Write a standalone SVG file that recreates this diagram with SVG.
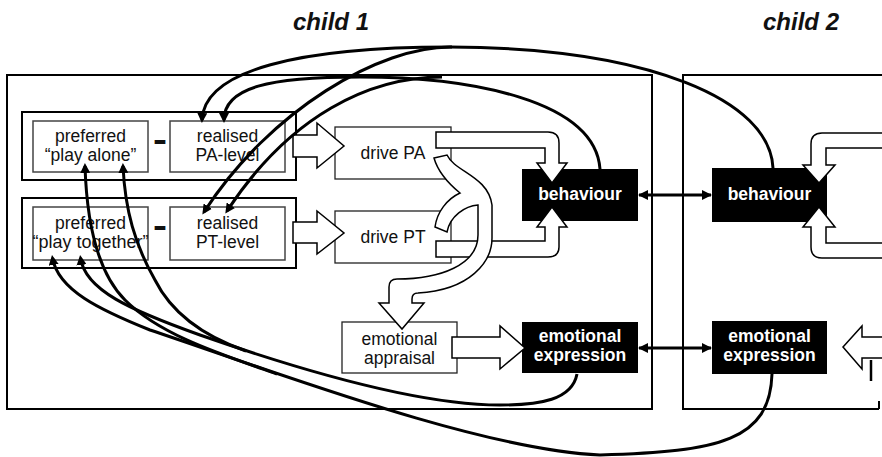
<svg xmlns="http://www.w3.org/2000/svg" width="882" height="457" viewBox="0 0 882 457">
<defs>
<style>
.frame{fill:none;stroke:#000;stroke-width:2}
.grp{fill:#fff;stroke:#000;stroke-width:2}
.inner{fill:#fff;stroke:#444;stroke-width:1.5}
.plain{fill:#fff;stroke:#222;stroke-width:1.3}
.blk{fill:#000}
.t{font-family:"Liberation Sans",Arial,sans-serif;font-size:17.5px;fill:#111;text-anchor:middle}
.tw{font-family:"Liberation Sans",Arial,sans-serif;font-size:17.5px;font-weight:bold;fill:#fff;text-anchor:middle}
.minus{font-family:"Liberation Sans",Arial,sans-serif;font-size:34px;font-weight:bold;fill:#111;text-anchor:middle}
.title{font-family:"Liberation Sans",Arial,sans-serif;font-size:24px;font-weight:bold;font-style:italic;fill:#111;text-anchor:middle}
.band{fill:#fff;stroke:#000;stroke-width:1.5;stroke-linejoin:miter}
.fb{fill:none;stroke:#000;stroke-width:3}
</style>
<marker id="ah" viewBox="0 0 10 10" refX="7" refY="5" markerWidth="10" markerHeight="10" markerUnits="userSpaceOnUse" orient="auto">
<path d="M0,0 L10,5 L0,10 Z" fill="#000"/>
</marker>
<marker id="ah2" viewBox="0 0 10 10" refX="9" refY="5" markerWidth="10" markerHeight="10" markerUnits="userSpaceOnUse" orient="auto-start-reverse">
<path d="M0,0 L10,5 L0,10 Z" fill="#000"/>
</marker>
</defs>
<rect x="0" y="0" width="882" height="457" fill="#fff"/>

<g id="title-child1"><text class="title" x="331" y="30">child 1</text></g>
<g id="title-child2"><text class="title" x="801" y="30">child 2</text></g>

<g id="child1-frame"><rect class="frame" x="7" y="75" width="645" height="334"/></g>
<g id="child2-frame"><path class="frame" d="M884,75 H683 V409 H879"/>
<path d="M879,401 V409" stroke="#000" stroke-width="2" fill="none"/>
<path d="M871,360 V381" stroke="#000" stroke-width="2.5" fill="none"/></g>

<g id="pa-group">
<rect class="grp" x="22" y="112" width="274" height="68"/>
</g>
<g id="preferred-pa">
<rect class="inner" x="33" y="121" width="115" height="51"/>
<text class="t" x="90.5" y="142">preferred</text>
<text class="t" x="90.5" y="161">“play alone”</text>
</g>
<g id="minus-pa"><text class="minus" x="160" y="151" textLength="14" lengthAdjust="spacingAndGlyphs">-</text></g>
<g id="realised-pa">
<rect class="inner" x="170" y="121" width="115" height="51"/>
<text class="t" x="227.5" y="142">realised</text>
<text class="t" x="227.5" y="161">PA-level</text>
</g>

<g id="pt-group">
<rect class="grp" x="22" y="198" width="274" height="70"/>
</g>
<g id="preferred-pt">
<rect class="inner" x="33" y="207" width="115" height="53"/>
<text class="t" x="90.5" y="229">preferred</text>
<text class="t" x="90.5" y="248" textLength="116" lengthAdjust="spacingAndGlyphs">“play together”</text>
</g>
<g id="minus-pt"><text class="minus" x="160" y="237" textLength="14" lengthAdjust="spacingAndGlyphs">-</text></g>
<g id="realised-pt">
<rect class="inner" x="170" y="207" width="115" height="53"/>
<text class="t" x="227.5" y="229">realised</text>
<text class="t" x="227.5" y="248">PT-level</text>
</g>

<g id="drive-pa">
<rect class="plain" x="335" y="127" width="116" height="52"/>
<text class="t" x="393" y="159">drive PA</text>
</g>
<g id="drive-pt">
<rect class="plain" x="335" y="211" width="116" height="52"/>
<text class="t" x="393" y="243">drive PT</text>
</g>
<g id="appraisal">
<rect class="plain" x="342" y="322" width="115" height="51"/>
<text class="t" x="399.5" y="345">emotional</text>
<text class="t" x="399.5" y="364">appraisal</text>
</g>
<g id="behaviour1">
<rect class="blk" x="522" y="169" width="116" height="52"/>
<text class="tw" x="580" y="200">behaviour</text>
</g>
<g id="expression1">
<rect class="blk" x="522" y="322" width="116" height="51"/>
<text class="tw" x="580" y="342">emotional</text>
<text class="tw" x="580" y="361">expression</text>
</g>
<g id="behaviour2">
<rect class="blk" x="712" y="168" width="115" height="54"/>
<text class="tw" x="769.5" y="200">behaviour</text>
</g>
<g id="expression2">
<rect class="blk" x="712" y="321" width="115" height="53"/>
<text class="tw" x="769.5" y="342">emotional</text>
<text class="tw" x="769.5" y="361">expression</text>
</g>

<g id="connectors">
<path class="band" d="M293,135 L317,135 L317,123 L344,146 L317,168 L317,157 L293,157 Z"/>
<path class="band" d="M293,222 L317,222 L317,211 L344,233 L317,254 L317,243 L293,243 Z"/>
<path class="band" d="M436,132 L548,132 Q559,132 559,143 L559,163 L567,163 L552,183 L537,163 L545,163 L545,148 L436,148 Z"/>
<path class="band" d="M436,241 L545,241 L545,227 L537,227 L552,207 L567,227 L559,227 L559,247 Q559,257 548,257 L436,257 Z"/>
<path class="band" d="M434,158 L447,155 C455,172 488,176 492,205 L492,238 C492,262 470,290 418,293 Q412,293 412,299 L412,303 L424,303 L402,329 L379,303 L389,303 L389,287 Q389,279 397,279 C440,279 478,265 478,235 L478,205 C465,206 450,216 447,232 L435,227 C437,212 447,199 460,193 C449,184 438,172 434,158 Z"/>
<path class="band" d="M452,337 L500,337 L500,326 L525,348 L500,369 L500,358 L452,358 Z"/>
<path class="band" d="M884,133 L822,133 Q811,133 811,144 L811,165 L803,165 L819,183 L835,165 L826,165 L826,148 L884,148 Z"/>
<path class="band" d="M884,258 L822,258 Q811,258 811,247 L811,227 L803,227 L819,207 L835,227 L826,227 L826,243 L884,243 Z"/>
<path class="band" d="M884,337 L862,337 L862,326 L843,347 L862,369 L862,358 L884,358 Z"/>

<path class="fb" marker-end="url(#ah)" d="M773,168 C770,100 650,48 450,47 C300,47 204,70 202,120"/>
<path class="fb" marker-end="url(#ah)" d="M452,47 C380,46 270,110 204,212"/>
<path class="fb" marker-end="url(#ah)" d="M600,169 C595,100 470,77 360,77 C270,77 224,87 224,120"/>
<path class="fb" marker-end="url(#ah)" d="M442,77 C370,77 290,115 227,211"/>
<path class="fb" marker-end="url(#ah)" d="M772,374 C770,440 720,452 600,455 C480,450 270,370 150,330 C100,310 58,290 52.5,258"/>
<path class="fb" marker-end="url(#ah)" d="M277,374 C220,354 160,335 125,300 C100,275 87,230 85,166"/>
<path class="fb" marker-end="url(#ah)" d="M577,374 C572,400 540,405 500,405 C420,405 300,370 200,335 C130,310 85,290 80.5,258"/>
<path class="fb" marker-end="url(#ah)" d="M246,351 C200,335 170,310 155,280 C135,245 125,210 123,166"/>

<path class="fb" marker-start="url(#ah2)" marker-end="url(#ah2)" d="M639,195 H711"/>
<path class="fb" marker-start="url(#ah2)" marker-end="url(#ah2)" d="M639,348 H711"/>
</g>
</svg>
